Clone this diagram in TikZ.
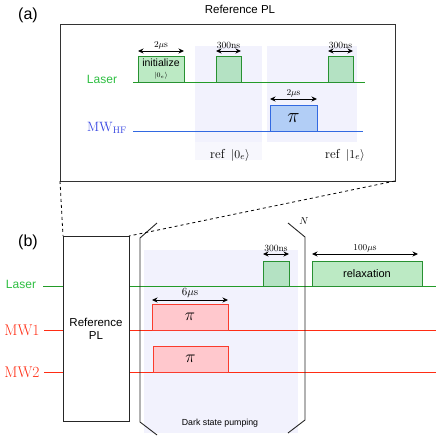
\documentclass[tikz,border=0pt]{standalone}
\usepackage{fontspec}
\newfontfamily\hv{Liberation Sans}
\usetikzlibrary{arrows.meta}
\definecolor{gline}{RGB}{35,155,40}
\definecolor{glabel}{RGB}{45,190,65}
\definecolor{gfill}{RGB}{180,226,195}
\definecolor{gfilll}{RGB}{188,234,196}
\definecolor{gedge}{RGB}{40,145,50}
\definecolor{bline}{RGB}{50,105,225}
\definecolor{blabel}{RGB}{55,70,225}
\definecolor{bfill}{RGB}{178,206,246}
\definecolor{rline}{RGB}{255,45,20}
\definecolor{rfill}{RGB}{255,200,205}
\definecolor{redge}{RGB}{250,60,45}
\definecolor{shade}{RGB}{242,242,253}
\definecolor{shadel}{RGB}{247,247,253}
\begin{document}
\begin{tikzpicture}[x=1pt,y=-1pt,
  pulse/.style={draw, anchor=north west, inner sep=0pt, outer sep=0pt, line width=0.9pt},
  gpulse/.style={pulse, draw=gedge, fill=gfill},
  bpulse/.style={pulse, draw=bline, fill=bfill},
  rpulse/.style={pulse, draw=redge, fill=rfill},
  dim/.style={{Stealth[length=5.5pt,width=5pt]}-{Stealth[length=5.5pt,width=5pt]}, line width=0.8pt},
  dimlbl/.style={midway, above, inner sep=1.5pt, font=\fontsize{9.5}{9.5}\selectfont},
  region/.style={fill=shade, draw=none, anchor=north west, inner sep=0pt, outer sep=0pt},
  glineS/.style={gline, line width=0.9pt},
  blineS/.style={bline, line width=0.9pt},
  rlineS/.style={rline, line width=0.9pt},
  bracket/.style={draw=black!85, line width=0.9pt},
  sans/.style={font=\hv\fontsize{11.5}{13}\selectfont}
]
\useasboundingbox (0,0) rectangle (436,437);

% ---------------- panel (a) ----------------
\node[font=\hv\fontsize{16}{16}\selectfont] (la) at (28,15) {(a)};
\node[sans] (title) at (240,9) {Reference PL};
\node[draw=black!80, line width=0.9pt, anchor=north west, inner sep=0pt, outer sep=0pt,
      minimum width=335pt, minimum height=157pt] (boxa) at (60,24) {};

\node[region, minimum width=67pt, minimum height=96pt] (reg1) at (195,46) {};
\node[region, minimum width=90pt, minimum height=96pt] (reg2) at (267,46) {};

\coordinate (laL) at (133,82);
\coordinate (laR) at (365,82);
\coordinate (mwL) at (133,131);
\coordinate (mwR) at (363,131);
\draw[glineS] (laL) -- (laR);
\draw[blineS] (mwL) -- (mwR);

\node[text=glabel, font=\hv\fontsize{12}{12}\selectfont] (laserA) at (102,79) {Laser};
\node[text=blabel, font=\fontsize{13.5}{14}\selectfont] (mwhf) at (107,128) {$\mathrm{MW}_{\mathrm{HF}}$};

\node[gpulse, fill=gfilll, minimum width=46pt, minimum height=26pt, align=center] (init) at (138,56)
  {\hv\fontsize{10.5}{9}\selectfont initialize\\[-1pt]\fontsize{7}{7}\selectfont$|0_e\rangle$};
\node[gpulse, minimum width=25pt, minimum height=26pt] (p2) at (216,56) {};
\node[gpulse, minimum width=25pt, minimum height=26pt] (p3) at (328,56) {};
\node[bpulse, minimum width=47pt, minimum height=26pt, font=\fontsize{22}{22}\selectfont] (pia) at (270,105) {$\pi$};

\draw[dim] ([yshift=5pt]init.north west) -- ([yshift=5pt]init.north east) node[dimlbl] (d1) {$2\mu$s};
\draw[dim] ([yshift=5pt]p2.north west) -- ([yshift=5pt]p2.north east) node[dimlbl] (d2) {300ns};
\draw[dim] ([yshift=5pt]p3.north west) -- ([yshift=5pt]p3.north east) node[dimlbl] (d3) {300ns};
\draw[dim] ([yshift=6pt]pia.north west) -- ([yshift=6pt]pia.north east) node[dimlbl] (d4) {$2\mu$s};

\node[fill=shadel, anchor=north west, inner sep=0pt, minimum width=67pt, minimum height=18pt] (ref0bg) at (195,142) {};
\node[font=\fontsize{13}{13}\selectfont] (ref0) at (230,155) {ref\hspace{0.5em}$|0_e\rangle$};
\node[font=\fontsize{13}{13}\selectfont] (ref1) at (345,155) {ref\hspace{0.5em}$|1_e\rangle$};

% ---------------- panel (b) ----------------
\node[font=\hv\fontsize{16}{16}\selectfont] (lb) at (28,242) {(b)};

\node[region, minimum width=154pt, minimum height=183pt] (reg3) at (144,250) {};

\coordinate (lbL) at (43,286);
\coordinate (lbR) at (436,286);
\coordinate (m1L) at (44,330);
\coordinate (m1R) at (436,330);
\coordinate (m2L) at (44,372);
\coordinate (m2R) at (436,372);
\draw[glineS] (lbL) -- (lbR);
\draw[rlineS] (m1L) -- (m1R);
\draw[rlineS] (m2L) -- (m2R);

\node[text=glabel, font=\hv\fontsize{12}{12}\selectfont] (laserB) at (21,284) {Laser};
\node[text=rline, font=\fontsize{15.5}{16}\selectfont] (mw1) at (22,330) {MW1};
\node[text=rline, font=\fontsize{15.5}{16}\selectfont] (mw2) at (22,372) {MW2};

\node[draw=black!85, line width=0.9pt, fill=white, anchor=north west, inner sep=0pt, outer sep=0pt,
      minimum width=66pt, minimum height=185pt, align=center, sans] (refpl) at (63,236) {Reference\\PL};

\draw[bracket] (157,223) coordinate (bl1) -- (140,238) coordinate (bl2) -- (140,422) coordinate (bl3) -- (157,435) coordinate (bl4);
\draw[bracket] (288,223) coordinate (br1) -- (305,237) coordinate (br2) -- (305,420) coordinate (br3) -- (288,433) coordinate (br4);
\node[font=\fontsize{10}{10}\selectfont] (N) at (304,221) {$N$};

\node[gpulse, minimum width=26pt, minimum height=25pt] (p4) at (263,261) {};
\node[gpulse, fill=gfilll, minimum width=110pt, minimum height=25pt, font=\hv\fontsize{11}{11}\selectfont] (relax) at (312,261) {relaxation};
\node[rpulse, minimum width=76pt, minimum height=26pt, font=\fontsize{19}{19}\selectfont] (pi1) at (152,304) {$\pi$};
\node[rpulse, minimum width=75pt, minimum height=26pt, font=\fontsize{19}{19}\selectfont] (pi2) at (153,346) {$\pi$};

\coordinate (r1) at (312,254);
\coordinate (r2) at (418,254);
\draw[dim] ([yshift=7pt]p4.north west) -- ([yshift=7pt]p4.north east) node[dimlbl] (d5) {300ns};
\draw[dim] (r1) -- (r2) node[dimlbl] (d6) {$100\mu$s};
\draw[dim] ([yshift=4pt]pi1.north west) -- ([yshift=4pt]pi1.north east) node[dimlbl, font=\fontsize{11}{11}\selectfont] (d7) {$6\mu$s};

\node[font=\hv\fontsize{8.8}{9}\selectfont] (dsp) at (220,423) {Dark state pumping};

% zoom lines
\draw[dashed, line width=0.8pt] (boxa.south west) -- (refpl.north west);
\draw[dashed, line width=0.8pt] (boxa.south east) -- (refpl.north east);
\end{tikzpicture}
\end{document}
